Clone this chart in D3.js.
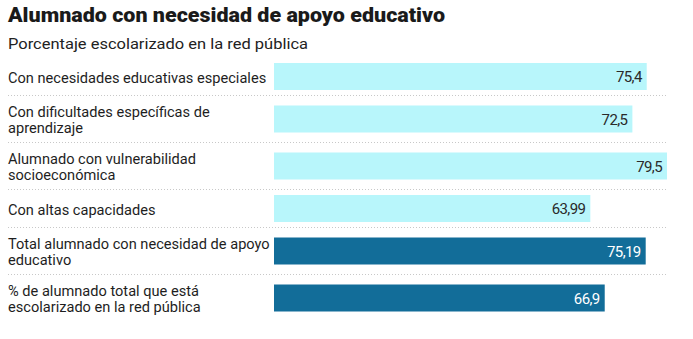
<!DOCTYPE html>
<html><head><meta charset="utf-8">
<script src="https://cdn.jsdelivr.net/npm/d3@7"></script>
<style>
html,body{margin:0;padding:0;background:#fff;}
svg{display:block;}
text{font-family:Roboto,"Liberation Sans",sans-serif;}
</style></head>
<body>
<svg id="chart" width="693" height="339"></svg>
<script>
const titleText = "Alumnado con necesidad de apoyo educativo";
const subtitleText = "Porcentaje escolarizado en la red pública";
const labels = [
  ["Con necesidades educativas especiales"],
  ["Con dificultades específicas de", "aprendizaje"],
  ["Alumnado con vulnerabilidad", "socioeconómica"],
  ["Con altas capacidades"],
  ["Total alumnado con necesidad de apoyo", "educativo"],
  ["% de alumnado total que está", "escolarizado en la red pública"]
];
const values = [75.4, 72.5, 79.5, 63.99, 75.19, 66.9];
const isTotal = [false, false, false, false, true, true];

const svg = d3.select("#chart");
const left = 8, barX0 = 274, barX1 = 667;

svg.append("text").attr("x", left).attr("y", 22)
  .attr("font-size", 21).attr("font-weight", 900).attr("fill", "#1a1a1a")
  .attr("textLength", 437).attr("lengthAdjust", "spacingAndGlyphs")
  .text(titleText);
svg.append("text").attr("x", left).attr("y", 49)
  .attr("font-size", 15).attr("fill", "#222")
  .attr("textLength", 300).attr("lengthAdjust", "spacingAndGlyphs")
  .text(subtitleText);

const x = d3.scaleLinear().domain([0, d3.max(values)]).range([barX0, barX1]);

const rowH = labels.map(l => l.length === 1 ? 38 : 47);
const rowTop = [];
let acc = 57;
rowH.forEach(h => { rowTop.push(acc); acc += h; });

const fmt = v => String(v).replace(".", ",");

const rows = svg.selectAll("g.row").data(values).join("g").attr("class", "row")
  .attr("transform", (d, i) => `translate(0,${rowTop[i]})`);

rows.each(function(d, i) {
  const g = d3.select(this);
  const c = rowH[i] / 2 + 0.5;
  const barH = 27;
  g.append("rect").attr("x", x(0)).attr("y", c - barH / 2)
    .attr("width", x(d) - x(0)).attr("height", barH)
    .attr("fill", isTotal[i] ? "#126d99" : "#b8f6fb");
  g.append("text").attr("x", x(d) - 5).attr("y", c + 5.5)
    .attr("text-anchor", "end").attr("font-size", 15)
    .attr("letter-spacing", -0.6)
    .attr("fill", isTotal[i] ? "#fff" : "#2a2a2a")
    .text(fmt(d));
  const lines = labels[i];
  const t = g.append("text").attr("font-size", 14.6).attr("fill", "#1e1e1e");
  lines.forEach((ln, k) => {
    const base = lines.length === 1 ? c + 6 : c + 6 + (k === 0 ? -8.2 : 8.2);
    t.append("tspan").attr("x", left).attr("y", base).text(ln);
  });
  if (i < values.length - 1) {
    g.append("line").attr("x1", left).attr("x2", barX1)
      .attr("y1", rowH[i] + 0.5).attr("y2", rowH[i] + 0.5)
      .attr("stroke", "#c8c8c8").attr("stroke-width", 1)
      .attr("stroke-dasharray", "1,2");
  }
});
</script>
</body></html>
